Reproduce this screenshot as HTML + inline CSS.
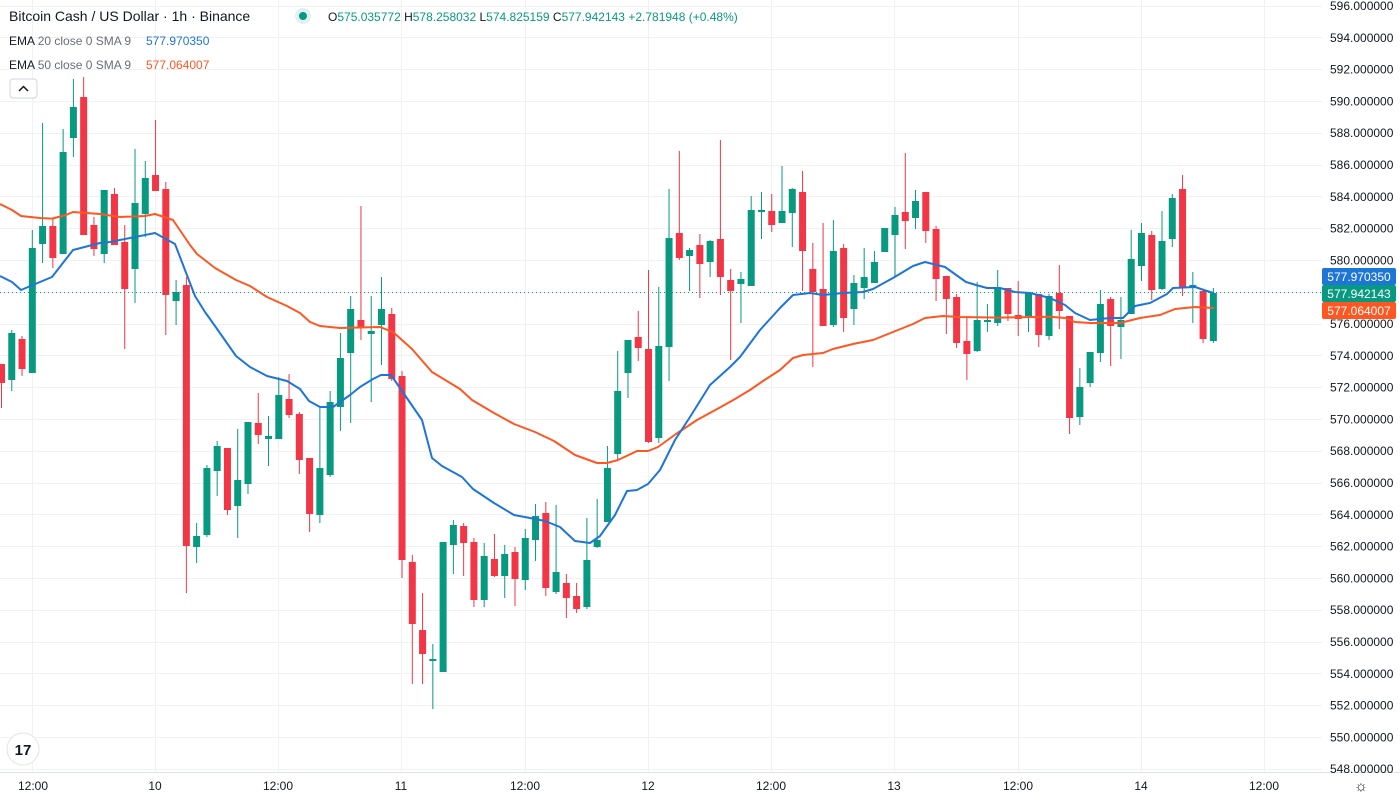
<!DOCTYPE html>
<html><head><meta charset="utf-8">
<style>
html,body{margin:0;padding:0;background:#fff;width:1400px;height:800px;overflow:hidden;font-family:"Liberation Sans",sans-serif}
svg{position:absolute;left:0;top:0}
</style></head><body>
<svg id="s" width="1400" height="800" xmlns="http://www.w3.org/2000/svg">
<g id="grid"></g>
<g id="cand"></g>
<g id="ema"></g>
<line x1="0" y1="292.5" x2="1322" y2="292.5" stroke="#089981" stroke-width="1" stroke-dasharray="1,3"/>
<line x1="0" y1="772.5" x2="1400" y2="772.5" stroke="#e0e3eb"/>
<g id="axis" font-size="12" fill="#131722"></g>
<rect x="1322" y="268" width="74" height="17" rx="2" fill="#1e75d8"/>
<text x="1359" y="281" font-size="12" fill="#fff" text-anchor="middle">577.970350</text>
<rect x="1322" y="285" width="74" height="17" rx="2" fill="#089981"/>
<text x="1359" y="298" font-size="12" fill="#fff" text-anchor="middle">577.942143</text>
<rect x="1322" y="302" width="74" height="17" rx="2" fill="#ff5722"/>
<text x="1359" y="315" font-size="12" fill="#fff" text-anchor="middle">577.064007</text>
<g font-size="12" fill="#131722" text-anchor="middle">
<text x="33" y="790">12:00</text><text x="155" y="790">10</text><text x="278" y="790">12:00</text>
<text x="401" y="790">11</text><text x="525" y="790">12:00</text><text x="648" y="790">12</text>
<text x="771" y="790">12:00</text><text x="894" y="790">13</text><text x="1018" y="790">12:00</text>
<text x="1141" y="790">14</text><text x="1264" y="790">12:00</text>
</g>
<text x="1361" y="791" font-size="15" fill="#131722" text-anchor="middle">☼</text>
<text x="9" y="21" font-size="14" fill="#131722">Bitcoin Cash / US Dollar · 1h · Binance</text>
<circle cx="303" cy="16" r="8" fill="#e0f2ef"/><circle cx="303" cy="16" r="4" fill="#089981"/>
<text x="328" y="21" font-size="12" fill="#131722">O<tspan fill="#089981">575.035772</tspan> H<tspan fill="#089981">578.258032</tspan> L<tspan fill="#089981">574.825159</tspan> C<tspan fill="#089981">577.942143</tspan> <tspan fill="#089981">+2.781948 (+0.48%)</tspan></text>
<text x="9" y="45" font-size="12" fill="#131722">EMA <tspan fill="#6a6d78">20 close 0 SMA 9</tspan></text>
<text x="146" y="45" font-size="12" fill="#1e75d8">577.970350</text>
<text x="9" y="69" font-size="12" fill="#131722">EMA <tspan fill="#6a6d78">50 close 0 SMA 9</tspan></text>
<text x="146" y="69" font-size="12" fill="#ff5722">577.064007</text>
<rect x="10" y="79" width="27" height="19" rx="3" fill="#fff" stroke="#d1d4dc"/>
<path d="M19 91 L23.5 86.5 L28 91" fill="none" stroke="#131722" stroke-width="1.5"/>
<circle cx="23" cy="749" r="16" fill="#fff" stroke="#e0e3eb"/>
<text x="23" y="755" font-size="15" font-weight="bold" fill="#131722" text-anchor="middle">17</text>
</svg>
<script>
var NS="http://www.w3.org/2000/svg";
function el(p,t,a){var e=document.createElementNS(NS,t);for(var k in a)e.setAttribute(k,a[k]);p.appendChild(e);return e;}
var grid=document.getElementById('grid'),axis=document.getElementById('axis');
[32,155,278,401,525,648,771,894,1018,1141,1264].forEach(function(x){el(grid,'line',{x1:x+.5,y1:0,x2:x+.5,y2:772,stroke:'#f0f1f4'});});
for(var k=0;k<=24;k++){var y=5.5+k*31.8;var p=596-2*k;
el(grid,'line',{x1:0,y1:Math.round(y)+.5,x2:1322,y2:Math.round(y)+.5,stroke:'#f0f1f4'});
var t=el(axis,'text',{x:1330,y:y+4.5});t.textContent=p.toFixed(6);}
var D=[
[364,383,364,408,'r'],[333,380,330,391,'g'],[339,369,336,376,'r'],[248,373,230,373,'g'],[226,244,123,263,'g'],
[226,258,218,268,'r'],[152,254,129,254,'g'],[107,138,79,157,'g'],[97,235,77,235,'r'],[225,249,217,256,'r'],
[190,254,190,263,'g'],[194,245,188,245,'r'],[242,289,225,349,'r'],[203,269,149,303,'g'],[178,214,161,237,'g'],
[175,191,120,191,'r'],[189,295,182,335,'r'],[292,301,280,325,'g'],[285,546,277,593,'r'],[536,547,523,563,'g'],
[468,535,465,537,'g'],[446,471,441,496,'g'],[448,510,448,515,'r'],[480,506,429,538,'g'],[422,484,422,494,'g'],
[423,435,393,444,'r'],[436,439,416,466,'g'],[395,439,377,439,'g'],[399,415,374,418,'r'],[414,460,412,474,'r'],
[458,514,458,532,'r'],[468,515,407,523,'g'],[402,475,391,477,'g'],[358,407,333,431,'g'],[309,353,296,423,'g'],
[320,328,206,340,'r'],[331,334,296,402,'g'],[309,325,277,365,'g'],[314,379,308,381,'r'],[376,560,371,578,'r'],
[562,624,555,684,'r'],[630,654,593,684,'r'],[659,661,644,709,'g'],[542,672,542,672,'g'],[525,545,520,574,'g'],
[526,543,523,576,'r'],[542,600,538,607,'r'],[556,600,543,607,'g'],[559,576,534,577,'r'],[554,576,545,598,'g'],
[552,579,547,606,'r'],[538,580,529,590,'g'],[516,540,504,561,'g'],[513,588,502,596,'r'],[572,592,505,594,'g'],
[583,598,574,618,'r'],[596,609,583,613,'r'],[560,607,518,609,'g'],[540,547,499,548,'g'],[468,522,446,522,'g'],
[391,454,351,460,'g'],[340,373,340,398,'g'],[337,348,311,361,'r'],[349,442,270,443,'r'],[346,438,287,443,'g'],
[238,347,189,381,'g'],[233,258,151,260,'r'],[250,256,248,291,'g'],[245,264,234,298,'r'],[241,262,240,277,'g'],
[239,277,140,295,'r'],[280,291,269,360,'r'],[279,284,272,323,'g'],[210,286,196,286,'g'],[210,212,192,239,'g'],
[211,225,194,232,'r'],[211,223,166,223,'g'],[189,213,188,247,'g'],[192,251,171,291,'r'],[269,292,243,367,'r'],
[289,326,223,326,'r'],[251,325,220,327,'g'],[248,318,244,332,'r'],[283,309,275,325,'g'],[277,288,248,299,'g'],
[262,283,251,283,'g'],[228,252,228,252,'g'],[215,235,207,276,'g'],[212,221,153,249,'r'],[201,218,190,229,'g'],
[192,231,192,243,'r'],[229,279,226,301,'r'],[276,299,276,334,'r'],[297,343,294,348,'r'],[341,354,316,380,'r'],
[320,351,282,352,'g'],[320,322,304,332,'g'],[288,323,270,326,'g'],[288,314,288,321,'r'],[315,319,281,336,'r'],
[293,316,293,332,'g'],[294,335,294,347,'r'],[296,336,294,340,'g'],[293,311,265,329,'r'],[316,418,316,434,'r'],
[387,417,368,425,'g'],[352,383,352,387,'g'],[304,353,290,362,'g'],[299,326,297,366,'r'],[320,327,297,359,'g'],
[259,314,230,314,'g'],[233,266,223,281,'g'],[235,290,231,300,'r'],[241,289,211,290,'g'],[198,239,194,247,'g'],
[189,287,175,296,'r'],[285,287,272,323,'g'],[291,339,289,343,'r'],[293,341,288,343,'g']];
var cg=document.getElementById('cand');
D.forEach(function(d,i){var x=1.5+10.27*i;var col=d[4]=='g'?'#089981':'#f23645';
el(cg,'line',{x1:x,y1:d[2],x2:x,y2:d[3],stroke:col,'stroke-width':1});
el(cg,'rect',{x:x-3.5,y:d[0],width:7,height:Math.max(1.5,d[1]-d[0]),fill:col});});
var blue=[[0,276],[12,282],[21,290],[40,282],[52,277],[73,250],[100,243],[110,242],[155,233],[175,244],[195,296],[205,312],[215,326],[236,356],[250,367],[267,376],[287,381],[300,389],[309,401],[320,407],[333,407],[350,395],[360,387],[373,379],[381,375],[391,375],[400,388],[422,420],[432,458],[442,466],[462,477],[473,489],[494,503],[514,515],[530,518],[545,521],[560,527],[575,541],[590,543],[600,536],[615,515],[627,491],[637,490],[648,484],[660,470],[675,440],[690,417],[710,385],[730,367],[740,357],[760,330],[780,308],[793,295],[810,293],[823,295],[843,293],[863,292],[873,289],[893,278],[913,266],[925,262],[945,267],[966,282],[976,285],[987,288],[1000,288],[1015,292],[1030,293],[1050,298],[1065,305],[1075,313],[1090,320],[1110,318],[1123,318],[1135,306],[1150,303],[1167,294],[1173,288],[1195,287],[1210,292],[1214,293]];
var orng=[[0,204],[12,210],[21,216],[40,218],[52,218.6],[66,215],[73,212],[100,214],[120,217],[145,216],[155,214],[173,220],[190,245],[197,254],[215,268],[236,280],[250,286],[267,297],[287,306],[300,313],[310,322],[320,326],[340,328],[380,327],[393,332],[412,349],[432,372],[460,389],[472,400],[494,413],[514,424],[535,432],[554,441],[575,455],[597,463],[607,463],[618,460],[637,451],[648,451],[658,447],[676,434],[697,420],[719,408],[735,399],[750,390],[763,381],[780,370],[793,358],[803,355],[823,353],[833,349],[853,344],[873,340],[893,332],[913,324],[925,318],[943,316],[960,317],[1000,317.6],[1050,316.7],[1065,318],[1075,322],[1090,323],[1120,323],[1140,318],[1160,315],[1175,309],[1195,307],[1214,308]];
var eg=document.getElementById('ema');
function pl(a,c){el(eg,'polyline',{points:a.map(function(p){return p.join(',')}).join(' '),fill:'none',stroke:c,'stroke-width':2,'stroke-linejoin':'round'});}
pl(orng,'#ff5722');pl(blue,'#1e75d8');
</script>
</body></html>
